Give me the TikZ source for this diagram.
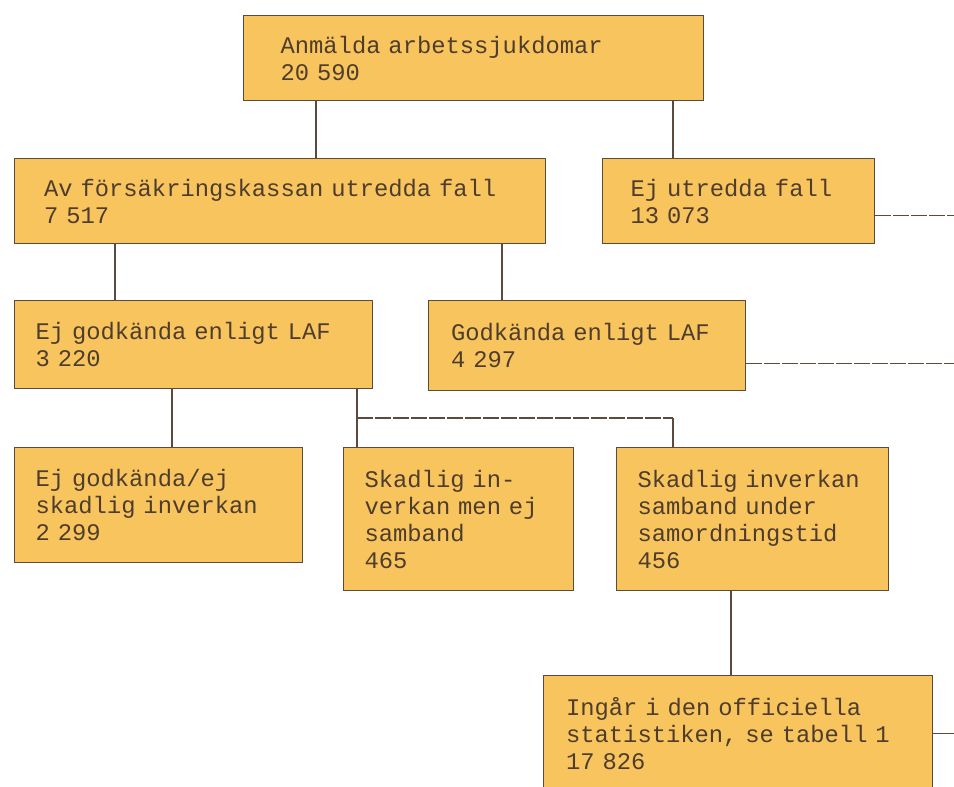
\documentclass[tikz,border=0pt]{standalone}
\usepackage{fontspec}
\setmonofont{Liberation Mono}
\usetikzlibrary{positioning}
\definecolor{Gul}{HTML}{F8C45E}
\definecolor{Linje}{HTML}{5B4B3E}
\definecolor{Brun}{HTML}{4E3D2C}

\begin{document}
\begin{tikzpicture}[x=0.5pt, y=-0.5pt,
  ruta/.style={draw=Linje, fill=Gul, line width=0.6pt, anchor=north west,
    align=left, inner xsep=0pt, text=Brun,
    font=\ttfamily\fontsize{11.9}{13.5}\selectfont},
  lodrat/.style={draw=Linje, line width=0.6pt},
  streck/.style={draw=Linje, line width=0.6pt, dash pattern=on 8pt off 1pt}]
  \useasboundingbox (0,0) rectangle (954,787);
  % rutorna
  \node[ruta, minimum width=230pt, minimum height=42.5pt, text width=193pt] (anm) at (243,15) {Anmälda arbetssjukdomar\\20 590};
  \node[ruta, minimum width=265.5pt, minimum height=42.5pt, text width=236pt] (utr) at (14,158) {Av försäkringskassan utredda fall\\7 517};
  \node[ruta, minimum width=136pt, minimum height=42.5pt, text width=108pt] (ejutr) at (602,158) {Ej utredda fall\\13 073};
  \node[ruta, minimum width=179pt, minimum height=44pt, text width=158pt] (ejgod) at (14,300) {Ej godkända enligt LAF\\3 220};
  \node[ruta, minimum width=158.5pt, minimum height=45pt, text width=136pt] (god) at (428,300) {Godkända enligt LAF\\4 297};
  \node[ruta, minimum width=144pt, minimum height=57.5pt, text width=123pt] (ejskad) at (14,447) {Ej godkända/ej\\skadlig inverkan\\2 299};
  \node[ruta, minimum width=115pt, minimum height=71.5pt, text width=94pt] (skad) at (343,447) {Skadlig in-\\verkan men ej\\samband\\465};
  \node[ruta, minimum width=136pt, minimum height=71.5pt, text width=115pt] (samb) at (616,447) {Skadlig inverkan\\samband under\\samordningstid\\456};
  \node[ruta, minimum width=194.5pt, minimum height=58pt, text width=172pt] (off) at (543,675) {Ingår i den officiella\\statistiken, se tabell 1\\17 826};
  % linjerna
  \coordinate (kant) at (954,0);
  \coordinate (gren) at (357,418);
  \draw[lodrat] ([xshift=36.5pt]anm.south west) -- ([xshift=151pt]utr.north west);
  \draw[lodrat] ([xshift=215pt]anm.south west) -- ([xshift=35.5pt]ejutr.north west);
  \draw[streck] ([yshift=-7.25pt]ejutr.east) -- ([yshift=-7.25pt]ejutr.east -| kant);
  \draw[lodrat] ([xshift=50.5pt]utr.south west) -- ([xshift=50.5pt]ejgod.north west);
  \draw[lodrat] ([xshift=244pt]utr.south west) -- ([xshift=37pt]god.north west);
  \draw[streck] ([yshift=-9pt]god.east) -- ([yshift=-9pt]god.east -| kant);
  \draw[lodrat] ([xshift=79pt]ejgod.south west) -- ([xshift=79pt]ejskad.north west);
  \draw[lodrat] ([xshift=171.5pt]ejgod.south west) -- ([xshift=7pt]skad.north west);
  \draw[streck] (gren) -- ([xshift=28.5pt]samb.north west |- gren);
  \draw[lodrat] ([xshift=28.5pt]samb.north west |- gren) -- ([xshift=28.5pt]samb.north west);
  \draw[lodrat] ([xshift=57.5pt]samb.south west) -- ([xshift=94pt]off.north west);
  \draw[lodrat] (off.east) -- (off.east -| kant);
\end{tikzpicture}
\end{document}
